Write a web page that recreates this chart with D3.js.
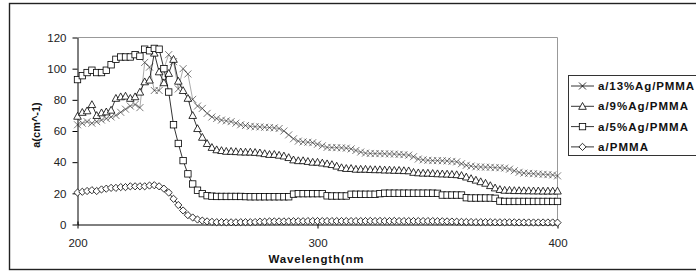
<!DOCTYPE html>
<html><head><meta charset="utf-8">
<script src="https://cdn.jsdelivr.net/npm/d3@7/dist/d3.min.js"></script>
<style>body{margin:0;background:#fff}svg{display:block}</style>
</head><body>
<script>
const wavelength = [200,202,204,206,208,210,212,214,216,218,220,222,224,226,228,230,232,234,236,238,
240,242,244,246,248,250,252,254,256,258,260,262,264,266,268,270,272,274,276,278,
280,282,284,286,288,290,292,294,296,298,300,302,304,306,308,310,312,314,316,318,
320,322,324,326,328,330,332,334,336,338,340,342,344,346,348,350,352,354,356,358,
360,362,364,366,368,370,372,374,376,378,380,382,384,386,388,390,392,394,396,398,400];

const ag13 = [64,65,66,65,66,67,68,69,70,72,
74,76,77,75,104,101,86,86,100,109,
104.5,87,100,96.6,80.3,76,74.5,71.3,69,68,
67,66.5,66,65,64,63.5,63,62.8,62.6,62.4,
62.2,62,61.6,60,57.5,55,53.5,53,52.8,52.5,
51.5,50.5,49.5,49.4,49.3,49.2,49,48.5,47.5,46.5,
45.8,45.6,45.5,45.5,45.4,45.3,45.2,45,44.8,44.5,
43.5,42,41.5,41.2,41,41,40.9,40.8,40.5,40.2,
39,38,37.5,37,36.9,36.8,36.7,36.5,36.4,36.2,
35.5,34.5,33.5,33,32.8,32.6,32.4,32.2,32,31.8,31.2];

const ag9 = [69.5,72,73,77,70,71.7,72.3,73.4,81,82,
82.4,81,82,85,91.6,92.7,110,98,91,97,
106,92,86,81,70,61.6,56,52,49.5,48,
47.5,47,47,46.8,46.6,46.5,46.5,46.3,46,45.5,
45,45,44.5,44,43,41.5,41,41,40.5,40,
40,39.5,39,38.5,37.5,36.5,36,36,35.5,35.5,
35.5,35.3,35.2,35.2,35,35,34.8,34.8,34.6,34.5,
33.5,33.2,33,33,32.8,32.6,32.5,32.4,32.2,32,
31.5,30.5,29.5,28.5,27.5,26.5,25,23.5,22.5,22,
22,21.8,21.8,21.7,21.7,21.6,21.6,21.5,21.5,21.5,21.5];

const ag5 = [93,95.5,97.5,99,97.5,97.5,99,102.5,106,107.5,
107.5,107.5,109,108,112.5,111.5,113,112.5,100,85,
64,52,41,32.5,26,22,19.8,18.5,18.2,18,
18,18,18,18,18,17.9,17.8,17.8,17.8,17.8,
17.8,17.8,17.8,17.8,17.8,19.5,19.8,19.8,19.8,19.8,
19.8,19.8,18.4,18.3,18.3,18.3,18.3,19.4,19.4,19.4,
19.4,19.4,19.4,19.8,20.1,20.1,20.1,20.1,20.1,20.1,
20.1,20.1,20.1,20.1,20.1,20,18.9,18.9,18.9,18.9,
18.9,17.2,17,17,17,17,17,16.8,15,14.8,
14.8,14.8,14.8,14.8,14.8,14.8,14.8,14.8,14.8,14.8,14.8];

const pmma = [20.5,21,21.5,22,21.5,22.5,23,23.5,23.5,24,
24,24.5,24.5,24.5,24.5,25,25.2,24.5,23,20.5,
16.5,12.5,9,6,4.5,3.2,2.5,2,1.7,1.5,
1.5,1.4,1.4,1.4,1.5,1.5,1.5,1.6,1.8,1.8,
2,2,2,2,2,2.1,2.1,2.1,2.2,2.2,
2.2,2.2,2.2,2.2,2.2,2.2,2.2,2.2,2.2,2.2,
2.2,2.3,2.2,2.3,2.2,2.2,2.3,2.2,2.2,2.2,
2.2,2.2,2.2,2.2,2.2,2.1,2.1,2,1.9,1.8,
1.7,1.6,1.6,1.5,1.5,1.5,1.5,1.4,1.4,1.4,
1.4,1.4,1.3,1.3,1.3,1.3,1.3,1.3,1.3,1.3,1.2];

const seriesNames = ["a/13%Ag/PMMA","a/9%Ag/PMMA","a/5%Ag/PMMA","a/PMMA"];
const seriesValues = [ag13, ag9, ag5, pmma];
const seriesMarkers = ["x","triangle","square","diamond"];
const yTicks = [0,20,40,60,80,100,120];
const xTicks = [200,300,400];
const xTitle = "Wavelength(nm";
const yTitle = "a(cm^-1)";

const W = 696, H = 271;
const svg = d3.select("body").append("svg").attr("width", W).attr("height", H)
  .style("font-family", "'Liberation Sans', Arial, sans-serif");

svg.append("rect").attr("x", 9.5).attr("y", 3.5).attr("width", 720).attr("height", 266)
  .attr("fill", "none").attr("stroke", "#222").attr("stroke-width", 1.4);

const x = d3.scaleLinear().domain([200, 400]).range([77.5, 557.5]);
const y = d3.scaleLinear().domain([0, 120]).range([224.5, 37.5]);

svg.append("path")
  .attr("d", `M${x(200)},${y(120)}H${x(400)}V${y(0)}`)
  .attr("fill", "none").attr("stroke", "#999").attr("stroke-width", 1);

const gy = svg.append("g").attr("transform", `translate(${x(200)},0)`)
  .call(d3.axisLeft(y).tickValues(yTicks).tickSize(5).tickSizeOuter(0).tickPadding(6));
gy.select(".domain").attr("stroke", "#000");
gy.selectAll(".tick line").attr("stroke", "#000");
gy.selectAll("text").attr("font-size", 11.5).attr("fill", "#222")
  .attr("font-family", "'Liberation Sans', Arial, sans-serif");

const gx = svg.append("g").attr("transform", `translate(0,${y(0)})`)
  .call(d3.axisBottom(x).tickValues(xTicks).tickSize(4).tickSizeOuter(0).tickPadding(10));
gx.select(".domain").attr("stroke", "#000");
gx.selectAll(".tick line").attr("stroke", "#000").attr("y1", -3);
gx.selectAll("text").attr("font-size", 11.5).attr("fill", "#222")
  .attr("font-family", "'Liberation Sans', Arial, sans-serif");

svg.append("text").attr("x", 316).attr("y", 263).attr("text-anchor", "middle")
  .attr("font-size", 11.5).attr("font-weight", "bold").attr("fill", "#111")
  .attr("textLength", 95).attr("lengthAdjust", "spacing").text(xTitle);
svg.append("text").attr("transform", "translate(40,125) rotate(-90)")
  .attr("text-anchor", "middle").attr("font-size", 11).attr("font-weight", "bold").attr("fill", "#111")
  .text(yTitle);

function drawMarker(g, type, cx, cy, legend) {
  if (type === "x") {
    const s = 3.5;
    g.append("path").attr("d", `M${cx-s},${cy-s}L${cx+s},${cy+s}M${cx-s},${cy+s}L${cx+s},${cy-s}`)
      .attr("stroke", legend ? "#000" : "#222").attr("stroke-width", legend ? 0.8 : 0.6).attr("fill", "none");
  } else if (type === "triangle") {
    const s = 3.8;
    g.append("path").attr("d", `M${cx},${cy-s}L${cx+s},${cy+s*0.8}L${cx-s},${cy+s*0.8}Z`)
      .attr("stroke", "#000").attr("stroke-width", 0.8).attr("fill", "#fff");
  } else if (type === "square") {
    const s = 3.2;
    g.append("rect").attr("x", cx-s).attr("y", cy-s).attr("width", 2*s).attr("height", 2*s)
      .attr("stroke", "#000").attr("stroke-width", 0.8).attr("fill", "#fff");
  } else {
    const s = 3.6;
    g.append("path").attr("d", `M${cx},${cy-s}L${cx+s},${cy}L${cx},${cy+s}L${cx-s},${cy}Z`)
      .attr("stroke", "#000").attr("stroke-width", 0.8).attr("fill", "#fff");
  }
}

const lineColors = ["#444", "#000", "#000", "#000"];
const lineWidths = [0.45, 0.8, 0.8, 0.8];
const line = d3.line().x((d, i) => x(wavelength[i])).y(d => y(d));
seriesValues.forEach((vals, k) => {
  const g = svg.append("g");
  g.append("path").datum(vals).attr("d", line).attr("fill", "none")
    .attr("stroke", lineColors[k]).attr("stroke-width", lineWidths[k]);
  vals.forEach((v, i) => drawMarker(g, seriesMarkers[k], x(wavelength[i]), y(v), false));
});

const lg = svg.append("g");
lg.append("rect").attr("x", 568.5).attr("y", 75.5).attr("width", 200).attr("height", 80)
  .attr("fill", "#fff").attr("stroke", "#333").attr("stroke-width", 1);
const legendLens = [96, 90, 90, 50];
seriesNames.forEach((name, i) => {
  const ly = 86 + i * 20.3;
  lg.append("line").attr("x1", 571).attr("x2", 594).attr("y1", ly).attr("y2", ly)
    .attr("stroke", "#000").attr("stroke-width", 0.8);
  drawMarker(lg, seriesMarkers[i], 582.5, ly, true);
  lg.append("text").attr("x", 598).attr("y", ly + 4).attr("font-size", 11.5)
    .attr("font-weight", "bold").attr("fill", "#111")
    .attr("textLength", legendLens[i]).attr("lengthAdjust", "spacing").text(name);
});
</script>
</body></html>
